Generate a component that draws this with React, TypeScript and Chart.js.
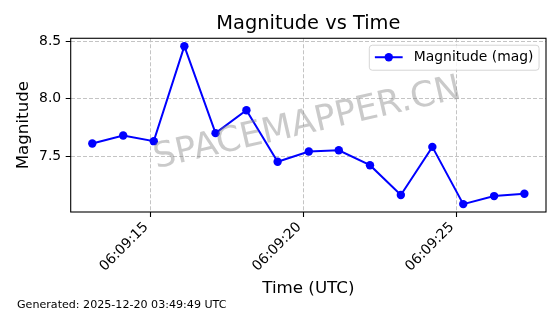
import React, { useEffect, useRef } from "react";
import { Chart, registerables } from "chart.js";

Chart.register(...registerables);

// ---- data ----
const timeBase = "06:09:";
const timeSec = [13.09, 14.1, 15.1, 16.1, 17.12, 18.13, 19.15, 20.17, 21.15, 22.17, 23.18, 24.21, 25.22, 26.23, 27.22];
const magnitude = [7.61, 7.68, 7.63, 8.46, 7.7, 7.9, 7.45, 7.54, 7.55, 7.42, 7.16, 7.58, 7.08, 7.15, 7.17];
const xTickValues = [15, 20, 25];
const yTickValues = [7.5, 8.0, 8.5];
const titleText = "Magnitude vs Time";
const xTitle = "Time (UTC)";
const yTitle = "Magnitude";
const seriesLabel = "Magnitude (mag)";
const footerText = "Generated: 2025-12-20 03:49:49 UTC";
const watermarkText = "SPACEMAPPER.CN";

const FONT = "'DejaVu Sans', Verdana, sans-serif";
const BLUE = "#0000ff";

const decor = {
  id: "decor",
  afterDatasetsDraw(chart: any) {
    const { ctx, chartArea } = chart;
    const cx = (chartArea.left + chartArea.right) / 2;
    const cy = (chartArea.top + chartArea.bottom) / 2;
    ctx.save();
    ctx.translate(cx - 1, cy - 1);
    ctx.rotate((-13 * Math.PI) / 180);
    ctx.font = `35px ${FONT}`;
    ctx.fillStyle = "rgba(128,128,128,0.42)";
    ctx.textAlign = "center";
    ctx.textBaseline = "middle";
    ctx.fillText(watermarkText, 0, 0);
    ctx.restore();
  },
  afterDraw(chart: any) {
    const { ctx, chartArea } = chart;
    ctx.save();
    // frame (spines)
    ctx.strokeStyle = "#000";
    ctx.lineWidth = 1.1;
    ctx.strokeRect(chartArea.left, chartArea.top, chartArea.right - chartArea.left, chartArea.bottom - chartArea.top);

    // legend
    const fs = 13.9;
    ctx.font = `${fs}px ${FONT}`;
    const tw = ctx.measureText(seriesLabel).width;
    const pad = 0.4 * fs;
    const handle = 2 * fs;
    const gap = 0.8 * fs;
    const w = pad * 2 + handle + gap + tw;
    const h = 25;
    const right = chartArea.right - 0.5 * fs;
    const top = chartArea.top + 0.5 * fs;
    const left = right - w;
    ctx.beginPath();
    ctx.roundRect(left, top, w, h, 3);
    ctx.fillStyle = "rgba(255,255,255,0.8)";
    ctx.fill();
    ctx.strokeStyle = "rgba(204,204,204,0.8)";
    ctx.lineWidth = 1;
    ctx.stroke();
    const my = top + h / 2 - 0.5;
    ctx.strokeStyle = BLUE;
    ctx.lineWidth = 2;
    ctx.beginPath();
    ctx.moveTo(left + pad, my);
    ctx.lineTo(left + pad + handle, my);
    ctx.stroke();
    ctx.fillStyle = BLUE;
    ctx.beginPath();
    ctx.arc(left + pad + handle / 2, my, 4.2, 0, Math.PI * 2);
    ctx.fill();
    ctx.fillStyle = "#000";
    ctx.textAlign = "left";
    ctx.textBaseline = "middle";
    ctx.fillText(seriesLabel, left + pad + handle + gap, top + h / 2);

    // footer
    ctx.font = `11.1px ${FONT}`;
    ctx.textBaseline = "alphabetic";
    ctx.fillText(footerText, 17, 308);
    ctx.restore();
  },
};

export default function App() {
  const ref = useRef<HTMLCanvasElement>(null);
  useEffect(() => {
    document.body.style.margin = "0";
    Chart.defaults.font.family = FONT;
    const canvas = ref.current!;
    const xMin = Math.min(...timeSec);
    const xMax = Math.max(...timeSec);
    const yMin = Math.min(...magnitude);
    const yMax = Math.max(...magnitude);
    const xm = (xMax - xMin) * 0.05;
    const ym = (yMax - yMin) * 0.05;

    const gridOpts = {
      color: "#c4c4c4",
      lineWidth: 1,
      tickLength: 5,
      tickColor: "#000",
      tickWidth: 1.1,
      tickBorderDash: [1, 0],
      drawTicks: true,
    };
    const borderOpts = { display: false, dash: [4, 2] };

    const chart = new Chart(canvas, {
      type: "line",
      data: {
        datasets: [
          {
            label: seriesLabel,
            data: timeSec.map((t, i) => ({ x: t, y: magnitude[i] })),
            borderColor: BLUE,
            backgroundColor: BLUE,
            borderWidth: 2,
            pointRadius: 4.2,
            pointHoverRadius: 4.2,
            pointBackgroundColor: BLUE,
            pointBorderColor: BLUE,
            pointBorderWidth: 0,
            tension: 0,
            fill: false,
          },
        ],
      },
      options: {
        responsive: false,
        animation: false,
        events: [],
        layout: { padding: { left: 0, right: 14, top: 0, bottom: 0 } },
        plugins: {
          legend: { display: false },
          tooltip: { enabled: false },
          title: {
            display: true,
            text: titleText,
            fullSize: false,
            color: "#000",
            font: { family: FONT, size: 19.4, weight: "normal" },
            padding: { top: 12.4, bottom: 2.6 },
          },
        },
        scales: {
          x: {
            type: "linear",
            min: xMin - xm,
            max: xMax + xm,
            afterBuildTicks: (s: any) => {
              s.ticks = xTickValues.map((v) => ({ value: v }));
            },
            afterFit: (s: any) => {
              s.height = 102;
            },
            grid: gridOpts,
            border: borderOpts,
            ticks: {
              autoSkip: false,
              minRotation: 45,
              maxRotation: 45,
              labelOffset: -4.5,
              padding: 2,
              color: "#000",
              font: { family: FONT, size: 13.9 },
              callback: (v: any) => timeBase + String(Math.round(v)).padStart(2, "0"),
            },
            title: {
              display: true,
              text: xTitle,
              color: "#000",
              font: { family: FONT, size: 16.7 },
              padding: { top: 0, bottom: 15 },
            },
          },
          y: {
            type: "linear",
            min: yMin - ym,
            max: yMax + ym,
            afterBuildTicks: (s: any) => {
              s.ticks = yTickValues.map((v) => ({ value: v }));
            },
            afterFit: (s: any) => {
              s.width = 70.7;
            },
            grid: gridOpts,
            border: borderOpts,
            ticks: {
              autoSkip: false,
              padding: 4.5,
              color: "#000",
              font: { family: FONT, size: 13.9 },
              callback: (v: any) => Number(v).toFixed(1),
            },
            title: {
              display: true,
              text: yTitle,
              color: "#000",
              font: { family: FONT, size: 16.7 },
              padding: { top: 13.3, bottom: 0 },
            },
          },
        },
      },
      plugins: [decor],
    } as any);
    return () => chart.destroy();
  }, []);

  return (
    <div style={{ width: 560, height: 314, background: "#fff" }}>
      <canvas ref={ref} width={560} height={314} style={{ width: 560, height: 314, display: "block" }} />
    </div>
  );
}
